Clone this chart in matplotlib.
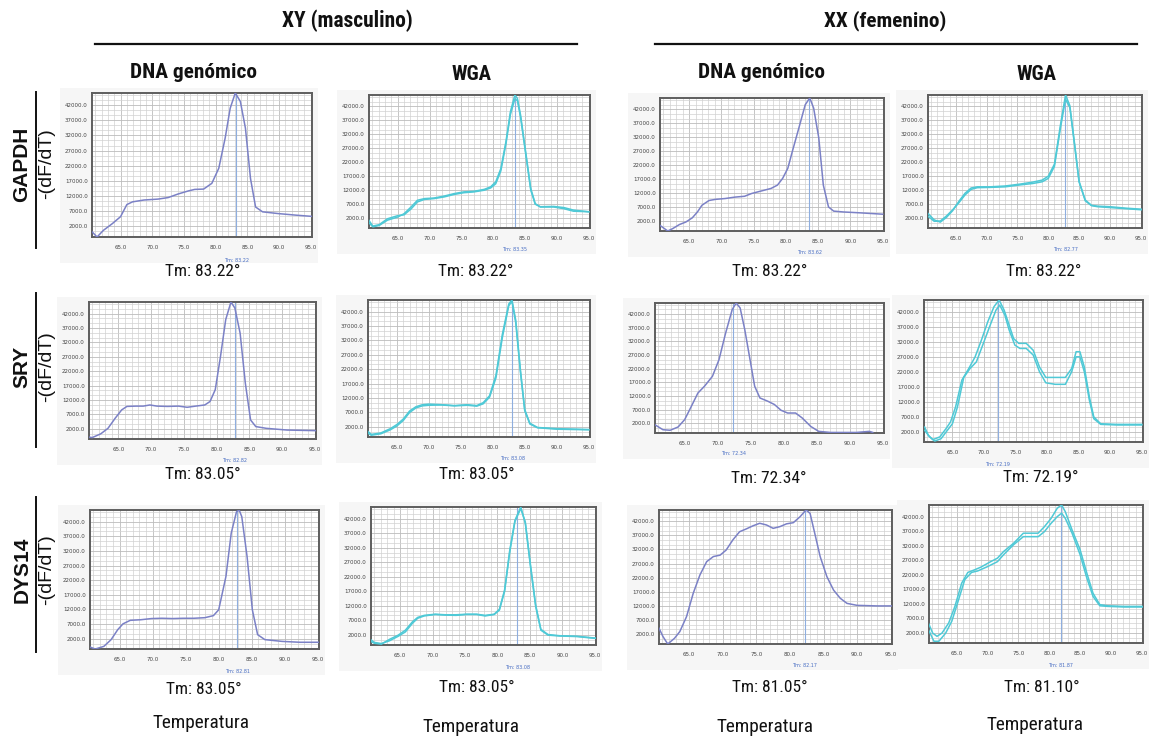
import numpy as np
import matplotlib
matplotlib.use('Agg')
import matplotlib.pyplot as plt
from matplotlib import font_manager
from matplotlib.patches import Rectangle
import matplotlib.transforms as mtransforms

# ---------------- data ----------------
genes = ['GAPDH', 'SRY', 'DYS14']
groups = ['XY (masculino)', 'XX (femenino)']
col_titles = ['DNA genómico', 'WGA', 'DNA genómico', 'WGA']
x_ticks = [65.0, 70.0, 75.0, 80.0, 85.0, 90.0, 95.0]
y_ticks = [2000.0, 7000.0, 12000.0, 17000.0, 22000.0, 27000.0, 32000.0, 37000.0, 42000.0]
tm_reported = [['83.22', '83.22', '83.22', '83.22'],
               ['83.05', '83.05', '72.34', '72.19'],
               ['83.05', '83.05', '81.05', '81.10']]
tm_software = [[83.22, 83.35, 83.62, 82.77],
               [82.82, 83.08, 72.34, 72.19],
               [82.81, 83.08, 82.17, 81.87]]

# GAPDH, XY, genomic DNA
gapdh_xy_gen_T = [60.0, 61.3, 62.3, 63.7, 65.0, 66.0, 66.9, 68.7, 70.9, 72.5, 74.1, 75.7, 76.7, 78.1, 79.4, 80.5, 81.5, 82.3, 83.1, 83.9, 84.7, 85.5, 86.3, 87.4, 90.0, 92.7, 95.2]
gapdh_xy_gen_v = [1300, -1500, 700, 2900, 5200, 9200, 10100, 10700, 11000, 11500, 12700, 13700, 14200, 14300, 16200, 21200, 31100, 41000, 46000, 43200, 34400, 17800, 8400, 6800, 6200, 5700, 5300]
# GAPDH, XY, WGA (two replicates)
gapdh_xy_wga_T = [60.4, 61.1, 62.1, 63.4, 65.0, 66.0, 67.1, 68.1, 69.2, 70.7, 72.3, 73.9, 75.4, 77.0, 78.6, 79.6, 80.4, 81.2, 82.0, 82.7, 83.4, 83.8, 84.3, 85.1, 85.9, 86.6, 87.4, 89.5, 91.1, 92.6, 95.0]
gapdh_xy_wga_v1 = [600, -1100, -600, 1300, 2400, 3600, 6000, 8400, 9000, 9200, 9900, 10800, 11400, 11600, 12300, 13200, 15000, 19700, 29300, 40000, 46000, 44800, 38800, 25700, 12600, 7200, 6000, 6000, 5400, 4500, 4300]
gapdh_xy_wga_v2 = [1500, -800, -300, 1800, 2900, 3200, 5300, 7800, 8700, 9000, 9600, 10500, 11100, 11400, 12000, 12800, 14300, 18900, 28500, 39000, 44600, 44000, 38000, 25000, 12000, 7000, 6100, 6200, 5800, 4900, 4300]
# GAPDH, XX, genomic DNA
gapdh_xx_gen_T = [60.5, 61.7, 62.5, 63.5, 64.5, 65.5, 66.3, 67.0, 68.1, 69.1, 70.6, 72.1, 73.6, 74.7, 76.2, 77.7, 78.7, 79.5, 80.3, 81.0, 82.0, 83.0, 83.7, 84.3, 85.1, 85.8, 86.6, 87.4, 88.9, 91.4, 95.0]
gapdh_xx_gen_v = [500, -1500, -600, 800, 1700, 3200, 5300, 7700, 9400, 9800, 10100, 10600, 10900, 11900, 12800, 13700, 14900, 17300, 20900, 26900, 35200, 43600, 46000, 42400, 31700, 14900, 7100, 5600, 5300, 5000, 4500]
# GAPDH, XX, WGA
gapdh_xx_wga_T = [60.5, 61.5, 62.5, 63.5, 64.5, 65.5, 66.5, 67.5, 68.5, 70.5, 73.0, 75.5, 77.5, 79.0, 80.0, 81.0, 82.0, 82.8, 83.5, 84.3, 85.0, 86.0, 87.0, 88.0, 90.0, 92.5, 95.2]
gapdh_xx_wga_v1 = [3700, 1400, 600, 2300, 4700, 8000, 10900, 12800, 13200, 13200, 13500, 14200, 14900, 15600, 17000, 21300, 35600, 46000, 42200, 28000, 15100, 8500, 6600, 6300, 6100, 5600, 5200]
gapdh_xx_wga_v2 = [2700, 900, 1000, 2800, 5000, 7500, 10300, 12300, 12900, 13000, 13200, 13900, 14400, 15000, 16200, 20500, 34500, 44500, 41500, 27500, 15000, 8200, 6500, 6100, 5800, 5400, 5000]

# SRY, XY, genomic DNA
sry_xy_gen_T = [59.0, 59.9, 61.0, 62.3, 63.4, 64.5, 65.5, 66.3, 67.7, 68.8, 69.8, 70.9, 72.5, 74.2, 75.5, 76.8, 78.2, 79.0, 79.8, 80.6, 81.4, 82.2, 82.8, 83.6, 84.4, 85.2, 86.0, 87.6, 90.8, 95.1]
sry_xy_gen_v = [400, -700, -1000, 300, 2200, 5700, 8600, 9800, 9900, 9900, 10300, 9900, 9800, 9900, 9500, 9900, 10300, 11500, 15600, 27100, 39900, 46000, 43900, 35200, 17800, 5100, 2800, 2200, 1600, 1400]
# SRY, XY, WGA
sry_xy_wga_T = [60.0, 61.0, 62.5, 64.0, 65.0, 66.0, 67.0, 68.0, 69.0, 70.0, 72.0, 74.0, 76.0, 77.5, 78.5, 79.5, 80.5, 81.5, 82.5, 83.0, 83.6, 84.3, 85.0, 85.8, 87.0, 90.0, 95.0]
sry_xy_wga_v1 = [1400, -600, -100, 1400, 2800, 4700, 7500, 9000, 9700, 9900, 9700, 9400, 9700, 9400, 10400, 12800, 19900, 34100, 44600, 46000, 38900, 22300, 8000, 3300, 1800, 1400, 1100]
sry_xy_wga_v2 = [600, -900, -400, 1000, 2300, 4200, 7000, 8600, 9300, 9500, 9600, 9300, 9500, 9200, 10000, 12300, 19000, 33000, 44000, 45500, 38000, 21500, 7600, 3000, 1700, 1200, 1000]
# SRY, XX, genomic DNA
sry_xx_gen_T = [60.5, 61.7, 62.8, 64.0, 65.0, 66.0, 67.0, 68.0, 69.2, 70.2, 71.2, 72.2, 72.8, 73.4, 74.1, 74.9, 75.6, 76.4, 77.6, 78.6, 79.6, 80.6, 81.8, 82.8, 84.1, 85.3, 87.1, 91.0, 93.0, 93.5]
sry_xx_gen_v = [1500, -300, -500, 700, 3400, 8200, 13100, 15600, 19200, 25300, 35000, 43600, 46000, 44200, 36300, 25300, 15600, 11300, 10100, 8900, 6800, 5800, 5800, 4000, 900, -900, -1300, -1300, -900, -1300]
# SRY, XX, WGA
sry_xx_wga_T1 = [60.6, 61.2, 61.9, 63.0, 64.0, 64.7, 65.5, 66.5, 67.6, 68.6, 69.6, 70.6, 71.6, 72.4, 73.2, 73.9, 74.7, 75.5, 76.7, 77.8, 78.8, 79.8, 81.3, 82.9, 83.9, 84.6, 85.2, 85.9, 86.7, 87.4, 88.5, 91.0, 95.0]
sry_xx_wga_v1 = [3500, 700, -700, 200, 3000, 5200, 10200, 19200, 23100, 27000, 32600, 38700, 43800, 46000, 42600, 38200, 33100, 31500, 31500, 29200, 23600, 20100, 20100, 20100, 23100, 28700, 28700, 23600, 13600, 6900, 4600, 4400, 4400]
sry_xx_wga_T2 = [60.6, 61.4, 62.2, 63.2, 64.2, 65.0, 65.8, 66.8, 67.8, 68.8, 69.8, 70.9, 71.9, 72.5, 73.3, 74.0, 74.9, 75.7, 76.7, 77.8, 78.8, 79.8, 81.3, 82.9, 83.9, 84.6, 85.2, 85.9, 86.7, 87.4, 88.5, 91.0, 95.0]
sry_xx_wga_v2 = [2400, 200, -1200, -400, 2400, 4600, 10200, 20100, 23100, 25300, 30900, 37100, 42600, 44300, 41000, 35900, 30900, 29800, 29800, 27600, 22000, 18300, 17800, 17800, 22000, 27000, 27000, 22000, 12500, 6300, 4400, 4200, 4200]

# DYS14, XY, genomic DNA
dys_xy_gen_T = [59.1, 60.2, 61.3, 62.6, 63.7, 64.7, 65.5, 66.6, 68.2, 69.8, 71.4, 73.0, 74.6, 76.2, 77.9, 79.2, 80.0, 81.1, 81.9, 82.7, 83.1, 83.5, 84.3, 85.1, 85.9, 87.0, 89.6, 92.3, 95.9]
dys_xy_gen_v = [500, -600, -1500, -600, 1700, 5100, 7100, 8300, 8500, 8900, 9000, 8900, 9000, 9000, 9200, 9900, 11900, 23300, 38100, 45400, 46000, 43700, 30100, 11900, 3400, 1700, 1100, 800, 800]
# DYS14, XY, WGA
dys_xy_wga_T = [60.1, 61.0, 62.1, 63.4, 64.7, 65.8, 66.9, 67.7, 68.7, 70.4, 72.0, 73.6, 75.2, 76.8, 78.1, 79.5, 80.3, 81.1, 81.9, 82.7, 83.6, 84.3, 85.1, 85.9, 86.7, 87.8, 89.6, 92.3, 95.0, 96.2]
dys_xy_wga_v1 = [200, -900, -1200, 500, 1900, 3600, 6500, 8000, 8700, 9100, 8900, 8900, 9100, 9100, 8700, 9100, 10800, 17400, 31100, 41400, 46000, 40300, 25400, 11700, 3600, 1900, 1600, 1400, 800, 800]
dys_xy_wga_v2 = [1000, -600, -1000, 0, 1500, 3000, 6000, 7700, 8500, 9000, 8800, 8700, 9000, 9000, 8500, 9000, 10500, 16900, 30500, 41000, 45500, 40800, 26000, 12200, 3900, 2100, 1700, 1500, 900, 900]
# DYS14, XX, genomic DNA
dys_xx_gen_T = [60.5, 61.1, 61.8, 62.8, 63.6, 64.6, 65.6, 66.6, 67.6, 68.6, 69.6, 70.5, 71.5, 72.5, 73.5, 74.5, 75.5, 76.5, 77.5, 78.5, 79.5, 80.5, 81.5, 82.4, 83.0, 83.7, 84.5, 85.5, 86.5, 87.5, 88.5, 90.0, 93.0, 95.2]
dys_xx_gen_v = [4100, 1100, -1500, 500, 2900, 8200, 16500, 23000, 27700, 29500, 30000, 31800, 35400, 38300, 39300, 40400, 41300, 40700, 39500, 40100, 41100, 41500, 43600, 46000, 44800, 37700, 29500, 22400, 17600, 14700, 12900, 12200, 12000, 12000]
# DYS14, XX, WGA
dys_xx_wga_T1 = [60.4, 61.1, 61.8, 62.6, 63.7, 64.7, 65.8, 66.8, 67.9, 68.9, 70.5, 71.6, 72.6, 74.2, 75.8, 76.8, 78.2, 79.2, 80.3, 81.3, 82.0, 82.6, 83.7, 85.0, 86.1, 87.1, 88.2, 89.5, 92.1, 95.1]
dys_xx_wga_v1 = [5400, 1900, 800, 1900, 5400, 11100, 19100, 22800, 23700, 24600, 26500, 27700, 30000, 32800, 36300, 36300, 36300, 38500, 41400, 44900, 46000, 43700, 37400, 30600, 22500, 15600, 11700, 11300, 11100, 11100]
dys_xx_wga_T2 = [60.4, 61.3, 62.1, 63.2, 64.2, 65.3, 66.3, 67.4, 68.4, 70.0, 71.6, 72.6, 74.2, 75.8, 76.8, 78.2, 79.2, 80.3, 81.3, 82.0, 82.6, 83.7, 85.0, 86.1, 87.1, 88.2, 89.5, 92.1, 95.1]
dys_xx_wga_v2 = [3100, -900, -900, 1900, 6000, 13400, 20300, 22800, 23300, 24800, 26500, 28900, 32300, 35100, 35100, 35100, 36800, 39700, 42000, 43200, 41400, 36300, 28900, 20800, 14500, 11300, 11100, 10900, 10900]

curves = [
    [[(gapdh_xy_gen_T, gapdh_xy_gen_v)],
     [(gapdh_xy_wga_T, gapdh_xy_wga_v1), (gapdh_xy_wga_T, gapdh_xy_wga_v2)],
     [(gapdh_xx_gen_T, gapdh_xx_gen_v)],
     [(gapdh_xx_wga_T, gapdh_xx_wga_v1), (gapdh_xx_wga_T, gapdh_xx_wga_v2)]],
    [[(sry_xy_gen_T, sry_xy_gen_v)],
     [(sry_xy_wga_T, sry_xy_wga_v1), (sry_xy_wga_T, sry_xy_wga_v2)],
     [(sry_xx_gen_T, sry_xx_gen_v)],
     [(sry_xx_wga_T1, sry_xx_wga_v1), (sry_xx_wga_T2, sry_xx_wga_v2)]],
    [[(dys_xy_gen_T, dys_xy_gen_v)],
     [(dys_xy_wga_T, dys_xy_wga_v1), (dys_xy_wga_T, dys_xy_wga_v2)],
     [(dys_xx_gen_T, dys_xx_gen_v)],
     [(dys_xx_wga_T1, dys_xx_wga_v1), (dys_xx_wga_T2, dys_xx_wga_v2)]],
]

# ---------------- layout / style ----------------
W, H = 1149, 737
fig = plt.figure(figsize=(W / 100, H / 100), dpi=100)
fig.patch.set_facecolor('white')
renderer = fig.canvas.get_renderer()

# pick a condensed sans family if one is installed
fonts = font_manager.fontManager.ttflist
HFAM = ['Liberation Sans', 'DejaVu Sans']
HSTRETCH = 'normal'
for cand in ['Liberation Sans Narrow', 'Roboto Condensed', 'Arial Narrow', 'Nimbus Sans Narrow',
             'Open Sans Condensed']:
    if any(f.name == cand for f in fonts):
        HFAM = [cand, 'DejaVu Sans']
        break
else:
    if any(f.name == 'Roboto' and str(f.stretch) in ('condensed', '75', 'semi-condensed', '87')
           for f in fonts):
        HFAM = ['Roboto', 'DejaVu Sans']
        HSTRETCH = 'condensed'
RFAM = ['Liberation Sans', 'DejaVu Sans']


def fx(x):
    return x / W


def fy(y):
    return 1 - y / H


def fit_text(x, y, s, width_px, size0=12, **kw):
    """Place a text centred at pixel (x, y) and scale it to the given width."""
    t = fig.text(fx(x), fy(y), s, ha='center', va='center', fontsize=size0,
                 family=HFAM, fontstretch=HSTRETCH, color='#111111', **kw)
    wpx = t.get_window_extent(renderer=renderer).width
    if wpx > 0:
        t.set_fontsize(size0 * width_px / wpx)
    return t


# plot boxes (left, top, right, bottom) in pixels
boxes = [
    [(92, 93, 312, 237), (369, 95, 590, 228), (660, 98, 884, 231), (928, 95, 1142, 228)],
    [(89, 302, 316, 439), (368, 300, 590, 437), (655, 303, 884, 433), (924, 300, 1143, 442)],
    [(90, 510, 319, 649), (371, 507, 596, 645), (659, 510, 892, 644), (929, 505, 1143, 643)],
]
tm_pos = [
    [(203, 271), (476, 271), (770, 271), (1044, 271)],
    [(203, 475), (477, 475), (769, 478), (1041, 477)],
    [(204, 690), (477, 688), (770, 687), (1042, 688)],
]
temp_pos = [(201, 723), (471, 727), (765, 727), (1035, 725)]

GEN_COLOR = '#7b81c6'
WGA_COLOR = '#4fc9d6'
TM_LINE = '#8eaedf'

for r in range(3):
    for c in range(4):
        l, t, rr, b = boxes[r][c]
        # faint panel background
        bg = Rectangle((fx(l - 32), fy(b + 26)), (rr - l + 38) / W, (b - t + 31) / H,
                       transform=fig.transFigure, facecolor='#f6f6f6', edgecolor='none',
                       zorder=-5)
        fig.add_artist(bg)
        ax = fig.add_axes([fx(l), fy(b), (rr - l) / W, (b - t) / H])
        ax.set_facecolor('white')
        ax.set_xlim(60.5, 95.2)
        ax.set_ylim(-1500, 46000)
        ax.set_xticks(x_ticks)
        ax.set_xticklabels([f'{v:.1f}' for v in x_ticks])
        ax.set_xticks(np.arange(61, 96, 1.0), minor=True)
        ax.set_yticks(y_ticks)
        ax.set_yticklabels([f'{v:.1f}' for v in y_ticks])
        ax.set_yticks(np.arange(-1333.33, 46000, 5000 / 3), minor=True)
        ax.grid(which='minor', color='#d2d2d2', lw=0.5)
        ax.grid(which='major', color='#bcbcbc', lw=0.6)
        ax.set_axisbelow(True)
        ax.tick_params(which='both', length=0, labelsize=4, labelcolor='#444444', pad=6)
        ax.tick_params(axis='y', pad=3)
        for sp in ax.spines.values():
            sp.set_color('#5e5e5e')
            sp.set_linewidth(1.4)
        ax.axvline(tm_software[r][c], color=TM_LINE, lw=0.8, zorder=2)
        color = GEN_COLOR if c % 2 == 0 else WGA_COLOR
        for (T, v) in curves[r][c]:
            ax.plot(T, v, color=color, lw=1.1, zorder=3, solid_joinstyle='round')
        trans = mtransforms.blended_transform_factory(ax.transData, ax.transAxes)
        ax.text(tm_software[r][c], -0.16, f'Tm: {tm_software[r][c]:.2f}', transform=trans,
                ha='center', va='center', fontsize=3.5, color='#4a6fc4', clip_on=False)
        # large Tm label
        x0, y0 = tm_pos[r][c]
        fit_text(x0, y0, f'Tm: {tm_reported[r][c]}°', 75)

# column "Temperatura" labels
for c in range(4):
    x0, y0 = temp_pos[c]
    fit_text(x0, y0, 'Temperatura', 97)

# group headers
fit_text(347, 21, groups[0], 131, fontweight='bold')
fit_text(885, 21, groups[1], 122, fontweight='bold')
fig.add_artist(plt.Line2D([fx(95), fx(577)], [fy(44), fy(44)], color='#111111', lw=1.6,
                          transform=fig.transFigure))
fig.add_artist(plt.Line2D([fx(655), fx(1137)], [fy(44), fy(44)], color='#111111', lw=1.6,
                          transform=fig.transFigure))

# column titles
col_title_pos = [(194, 72), (472, 74), (762, 72), (1037, 75)]
col_title_w = [127, 40, 127, 40]
for c in range(4):
    x0, y0 = col_title_pos[c]
    fit_text(x0, y0, col_titles[c], col_title_w[c], fontweight='bold')

# row labels
row_center = [164, 367, 570]
row_line = [(92, 248), (293, 447), (497, 652)]
for r in range(3):
    fig.text(fx(22), fy(row_center[r]), genes[r], rotation=90, ha='center', va='center',
             fontsize=15, fontweight='bold', family=RFAM, color='#111111')
    fig.add_artist(plt.Line2D([fx(36), fx(36)], [fy(row_line[r][0]), fy(row_line[r][1])],
                              color='#111111', lw=1.4, transform=fig.transFigure))
    fig.text(fx(47), fy(row_center[r]), '-(dF/dT)', rotation=90, ha='center', va='center',
             fontsize=14, family=RFAM, color='#111111')

fig.savefig('out.png', dpi=100)
